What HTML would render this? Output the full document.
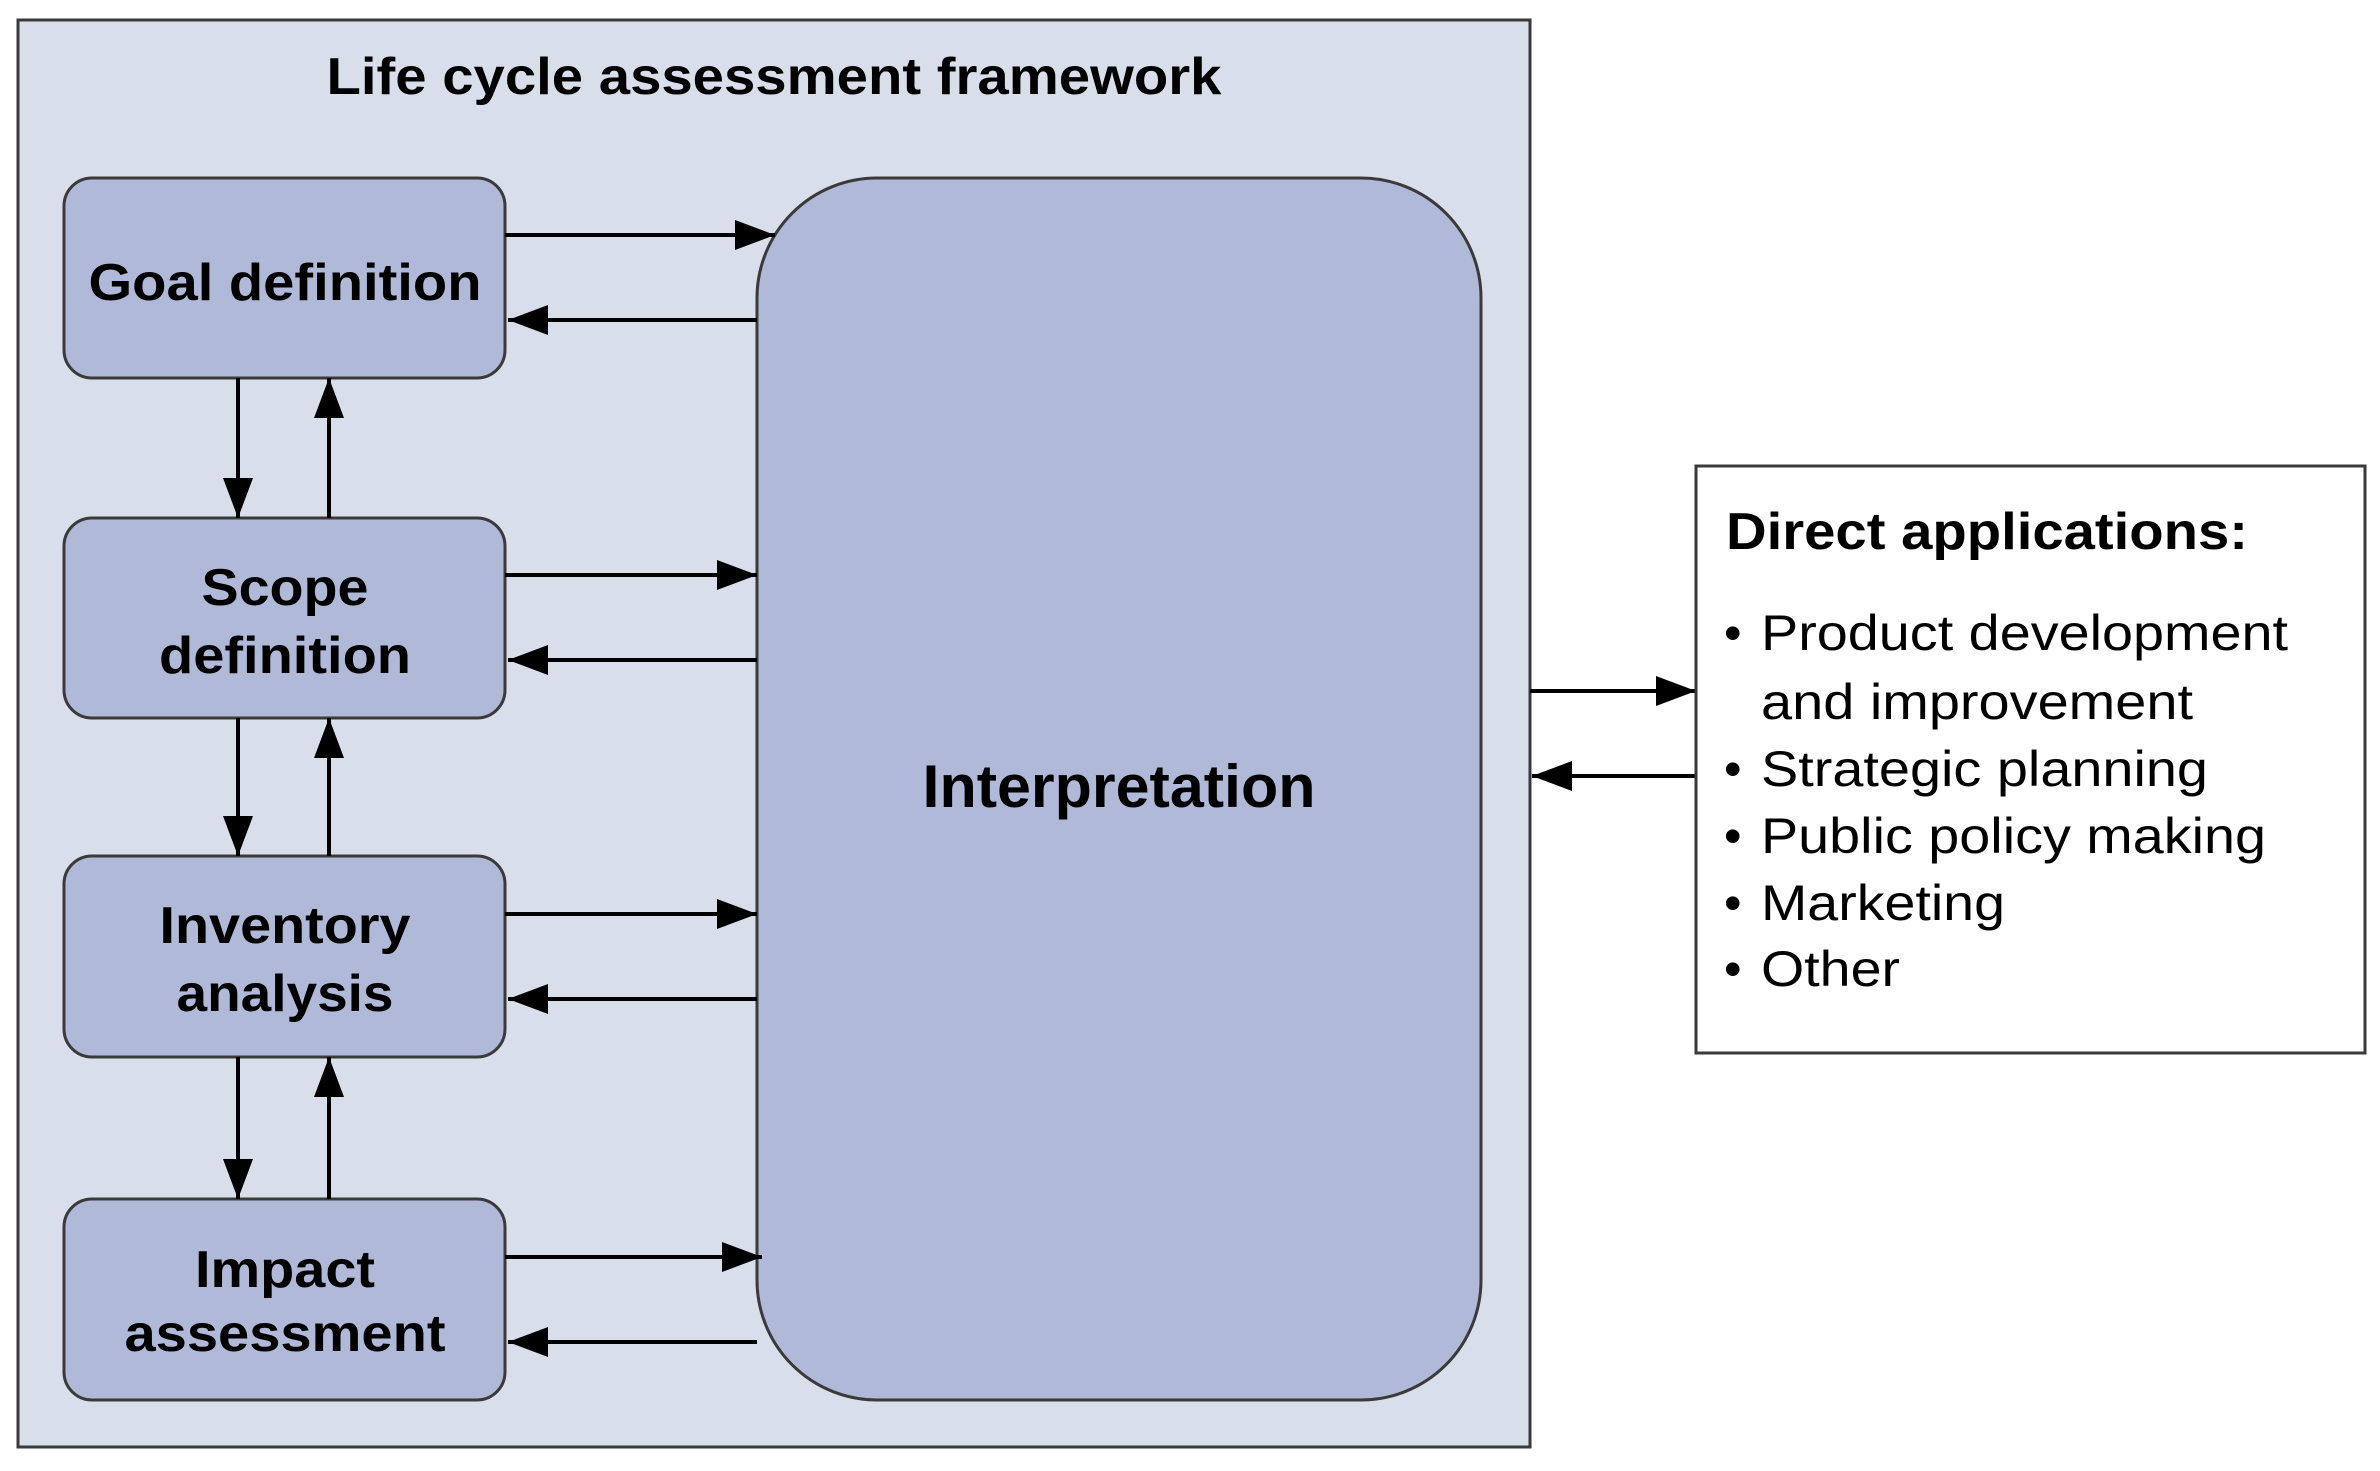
<!DOCTYPE html>
<html><head><meta charset="utf-8"><style>
html,body{margin:0;padding:0;background:#fff;}
svg{display:block;}
text{font-family:"Liberation Sans",Arial,sans-serif;fill:#000;}
</style></head><body>
<svg width="2380" height="1471" viewBox="0 0 2380 1471" xmlns="http://www.w3.org/2000/svg">
<defs>
<marker id="ah" markerWidth="40" markerHeight="30" refX="40" refY="15" orient="auto" markerUnits="userSpaceOnUse">
<path d="M0,0 L40,15 L0,30 z" fill="#000"/>
</marker>
</defs>
<rect x="18" y="20" width="1512" height="1427" fill="#d9deeb" stroke="#3a3a3a" stroke-width="3"/>
<text x="774" y="94" font-size="52" font-weight="bold" text-anchor="middle" textLength="895" lengthAdjust="spacingAndGlyphs">Life cycle assessment framework</text>

<g fill="#b0b9d8" stroke="#3a3a3a" stroke-width="3">
<rect x="64" y="178" width="441" height="200" rx="28"/>
<rect x="64" y="518" width="441" height="200" rx="28"/>
<rect x="64" y="856" width="441" height="201" rx="28"/>
<rect x="64" y="1199" width="441" height="201" rx="28"/>
<rect x="757" y="178" width="724" height="1222" rx="120"/>
</g>

<g font-size="52" font-weight="bold" text-anchor="middle">
<text x="285" y="300" textLength="393" lengthAdjust="spacingAndGlyphs">Goal definition</text>
<text x="285" y="605" textLength="167" lengthAdjust="spacingAndGlyphs">Scope</text>
<text x="285" y="673" textLength="252" lengthAdjust="spacingAndGlyphs">definition</text>
<text x="285" y="943" textLength="251" lengthAdjust="spacingAndGlyphs">Inventory</text>
<text x="285" y="1011" textLength="217" lengthAdjust="spacingAndGlyphs">analysis</text>
<text x="285" y="1287" textLength="180" lengthAdjust="spacingAndGlyphs">Impact</text>
<text x="285" y="1351" textLength="321" lengthAdjust="spacingAndGlyphs">assessment</text>
<text x="1119" y="807" font-size="60" textLength="393" lengthAdjust="spacingAndGlyphs">Interpretation</text>
</g>

<g stroke="#000" stroke-width="4" marker-end="url(#ah)">
<line x1="505" y1="235" x2="775" y2="235"/>
<line x1="757" y1="320" x2="508" y2="320"/>
<line x1="505" y1="575" x2="757" y2="575"/>
<line x1="757" y1="660" x2="508" y2="660"/>
<line x1="505" y1="914" x2="757" y2="914"/>
<line x1="757" y1="999" x2="508" y2="999"/>
<line x1="505" y1="1257" x2="762" y2="1257"/>
<line x1="757" y1="1342" x2="508" y2="1342"/>
<line x1="238" y1="378" x2="238" y2="518"/>
<line x1="329" y1="518" x2="329" y2="378"/>
<line x1="238" y1="718" x2="238" y2="856"/>
<line x1="329" y1="856" x2="329" y2="718"/>
<line x1="238" y1="1057" x2="238" y2="1199"/>
<line x1="329" y1="1199" x2="329" y2="1057"/>
<line x1="1530" y1="691" x2="1696" y2="691"/>
<line x1="1696" y1="776" x2="1532" y2="776"/>
</g>

<rect x="1696" y="466" width="669" height="587" fill="#fff" stroke="#3a3a3a" stroke-width="3"/>
<text x="1726" y="549" font-size="52" font-weight="bold" textLength="522" lengthAdjust="spacingAndGlyphs">Direct applications:</text>
<g font-size="50">
<text x="1724" y="650">•</text>
<text x="1761" y="650" textLength="527" lengthAdjust="spacingAndGlyphs">Product development</text>
<text x="1761" y="719" textLength="432" lengthAdjust="spacingAndGlyphs">and improvement</text>
<text x="1724" y="786">•</text>
<text x="1761" y="786" textLength="447" lengthAdjust="spacingAndGlyphs">Strategic planning</text>
<text x="1724" y="853">•</text>
<text x="1761" y="853" textLength="505" lengthAdjust="spacingAndGlyphs">Public policy making</text>
<text x="1724" y="920">•</text>
<text x="1761" y="920" textLength="244" lengthAdjust="spacingAndGlyphs">Marketing</text>
<text x="1724" y="986">•</text>
<text x="1761" y="986" textLength="139" lengthAdjust="spacingAndGlyphs">Other</text>
</g>
</svg>
</body></html>
